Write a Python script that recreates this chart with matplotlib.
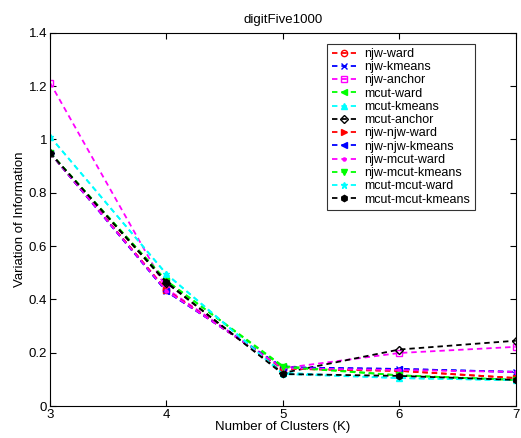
import matplotlib
matplotlib.use("Agg")
import matplotlib.pyplot as plt
import numpy as np

plt.rcParams['font.family'] = ['Liberation Sans', 'DejaVu Sans']

K = [3, 4, 5, 6, 7]
names = ["njw-ward", "njw-kmeans", "njw-anchor", "mcut-ward", "mcut-kmeans",
         "mcut-anchor", "njw-njw-ward", "njw-njw-kmeans", "njw-mcut-ward",
         "njw-mcut-kmeans", "mcut-mcut-ward", "mcut-mcut-kmeans"]
vi = [
    [0.950, 0.435, 0.140, 0.132, 0.105],
    [0.950, 0.430, 0.145, 0.139, 0.128],
    [1.213, 0.440, 0.142, 0.199, 0.222],
    [0.950, 0.470, 0.150, 0.115, 0.098],
    [1.011, 0.495, 0.125, 0.105, 0.097],
    [0.950, 0.462, 0.124, 0.212, 0.245],
    [0.950, 0.435, 0.140, 0.132, 0.105],
    [0.950, 0.430, 0.145, 0.139, 0.128],
    [0.950, 0.432, 0.142, 0.135, 0.128],
    [0.950, 0.470, 0.146, 0.115, 0.098],
    [1.011, 0.495, 0.120, 0.105, 0.097],
    [0.950, 0.465, 0.120, 0.113, 0.098],
]
colors = ["#ff0000", "#0000ff", "#ff00ff", "#00ff00", "#00ffff", "#000000",
          "#ff0000", "#0000ff", "#ff00ff", "#00ff00", "#00ffff", "#000000"]
markers = ["o", "x", "s", "<", "^", "D", ">", "<", ".", "v", "*", "h"]

fig = plt.figure(figsize=(5.21, 4.38), dpi=100)
ax = fig.add_axes([0.096, 0.073, 0.894, 0.852])
for i in range(len(names)):
    ax.plot(K, vi[i], "--", color=colors[i], marker=markers[i], markersize=4.5,
            markerfacecolor="none" if markers[i] in ["o", "s", "D"] else colors[i],
            linewidth=1.3, dashes=(3, 2.2), label=names[i])
ax.set_xlim(3, 7)
ax.set_ylim(0, 1.4)
ax.set_xticks(K)
ax.set_yticks([0, 0.2, 0.4, 0.6, 0.8, 1.0, 1.2, 1.4])
ax.set_yticklabels(["0", "0.2", "0.4", "0.6", "0.8", "1", "1.2", "1.4"])
ax.tick_params(direction="in", labelsize=9.5, length=4, top=True, right=True, pad=2)
ax.set_xlabel("Number of Clusters (K)", fontsize=9.5, labelpad=0)
ax.set_ylabel("Variation of Information", fontsize=9.5, labelpad=2)
ax.set_title("digitFive1000", fontsize=9.5, pad=7)
leg = ax.legend(loc="upper right", bbox_to_anchor=(0.925, 0.988), fontsize=9,
                fancybox=False, edgecolor="black", handlelength=1.9,
                labelspacing=0.1, borderpad=0.35, handletextpad=0.7)
leg.get_frame().set_linewidth(0.8)
fig.savefig("out.png", dpi=100)
